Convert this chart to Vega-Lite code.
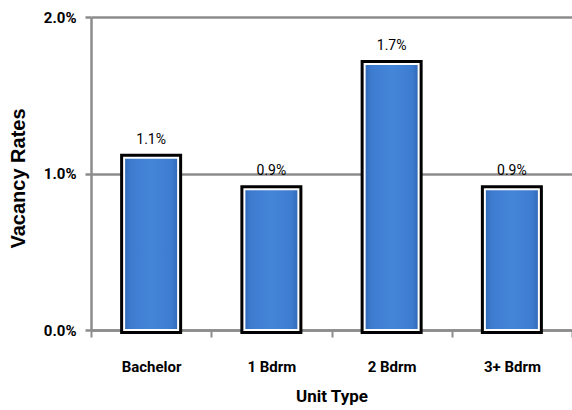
{
  "$schema": "https://vega.github.io/schema/vega-lite/v6.json",
  "width": 481,
  "height": 313,
  "autosize": {"type": "none"},
  "padding": {"left": 91, "top": 17, "right": 0, "bottom": 80},
  "background": "white",
  "config": {
    "view": {"stroke": null},
    "font": "Roboto, sans-serif"
  },
  "data": {
    "values": [
      {"unit": "Bachelor", "rate": 0.011},
      {"unit": "1 Bdrm", "rate": 0.009},
      {"unit": "2 Bdrm", "rate": 0.017},
      {"unit": "3+ Bdrm", "rate": 0.009}
    ]
  },
  "encoding": {
    "x": {
      "field": "unit",
      "type": "nominal",
      "sort": null,
      "scale": {"paddingInner": 0, "paddingOuter": 0},
      "axis": {
        "title": "Unit Type",
        "titleFont": "Roboto, sans-serif",
        "titleFontSize": 17,
        "titleFontWeight": "bold",
        "titleColor": "black",
        "titlePadding": 14,
        "labelAngle": 0,
        "labelFont": "Roboto, sans-serif",
        "labelFontSize": 15,
        "labelFontWeight": "bold",
        "labelColor": "black",
        "labelPadding": 22,
        "domainColor": "#8c8c8c",
        "domainWidth": 2.5,
        "tickColor": "#8c8c8c",
        "tickWidth": 2,
        "tickSize": 7,
        "tickBand": "extent",
        "grid": false
      }
    },
    "y": {
      "field": "rate",
      "type": "quantitative",
      "scale": {"domain": [0, 0.02]},
      "axis": {
        "title": "Vacancy Rates",
        "titleFont": "'Liberation Sans', Arial, sans-serif",
        "titleFontSize": 20,
        "titleFontWeight": "bold",
        "titleColor": "black",
        "titleX": -73,
        "titleY": 161,
        "titleAngle": 270,
        "titleAlign": "center",
        "titleBaseline": "middle",
        "values": [0, 0.01, 0.02],
        "format": ".1%",
        "labelFont": "Roboto, sans-serif",
        "labelFontSize": 15,
        "labelFontWeight": "bold",
        "labelColor": "black",
        "labelPadding": 9,
        "domainColor": "#8c8c8c",
        "domainWidth": 2.5,
        "tickColor": "#8c8c8c",
        "tickWidth": 2.5,
        "tickSize": 6,
        "grid": true,
        "gridColor": "#8c8c8c",
        "gridWidth": 2.5
      }
    }
  },
  "layer": [
    {
      "mark": {"type": "bar", "size": 54, "fill": "black", "stroke": "black", "strokeWidth": 8},
      "encoding": {}
    },
    {
      "mark": {
        "type": "bar",
        "size": 54,
        "stroke": "white",
        "strokeWidth": 2,
        "fill": {
          "gradient": "linear",
          "x1": 0, "y1": 0, "x2": 1, "y2": 0,
          "stops": [
            {"offset": 0, "color": "#3068b5"},
            {"offset": 0.12, "color": "#3d7bcf"},
            {"offset": 0.5, "color": "#4586d8"},
            {"offset": 0.88, "color": "#3d7bcf"},
            {"offset": 1, "color": "#3068b5"}
          ]
        }
      },
      "encoding": {}
    },
    {
      "mark": {
        "type": "text",
        "dy": -14,
        "baseline": "alphabetic",
        "fontSize": 14,
        "color": "black",
        "font": "Roboto, sans-serif"
      },
      "encoding": {
        "text": {"field": "rate", "type": "quantitative", "format": ".1%"}
      }
    }
  ]
}
